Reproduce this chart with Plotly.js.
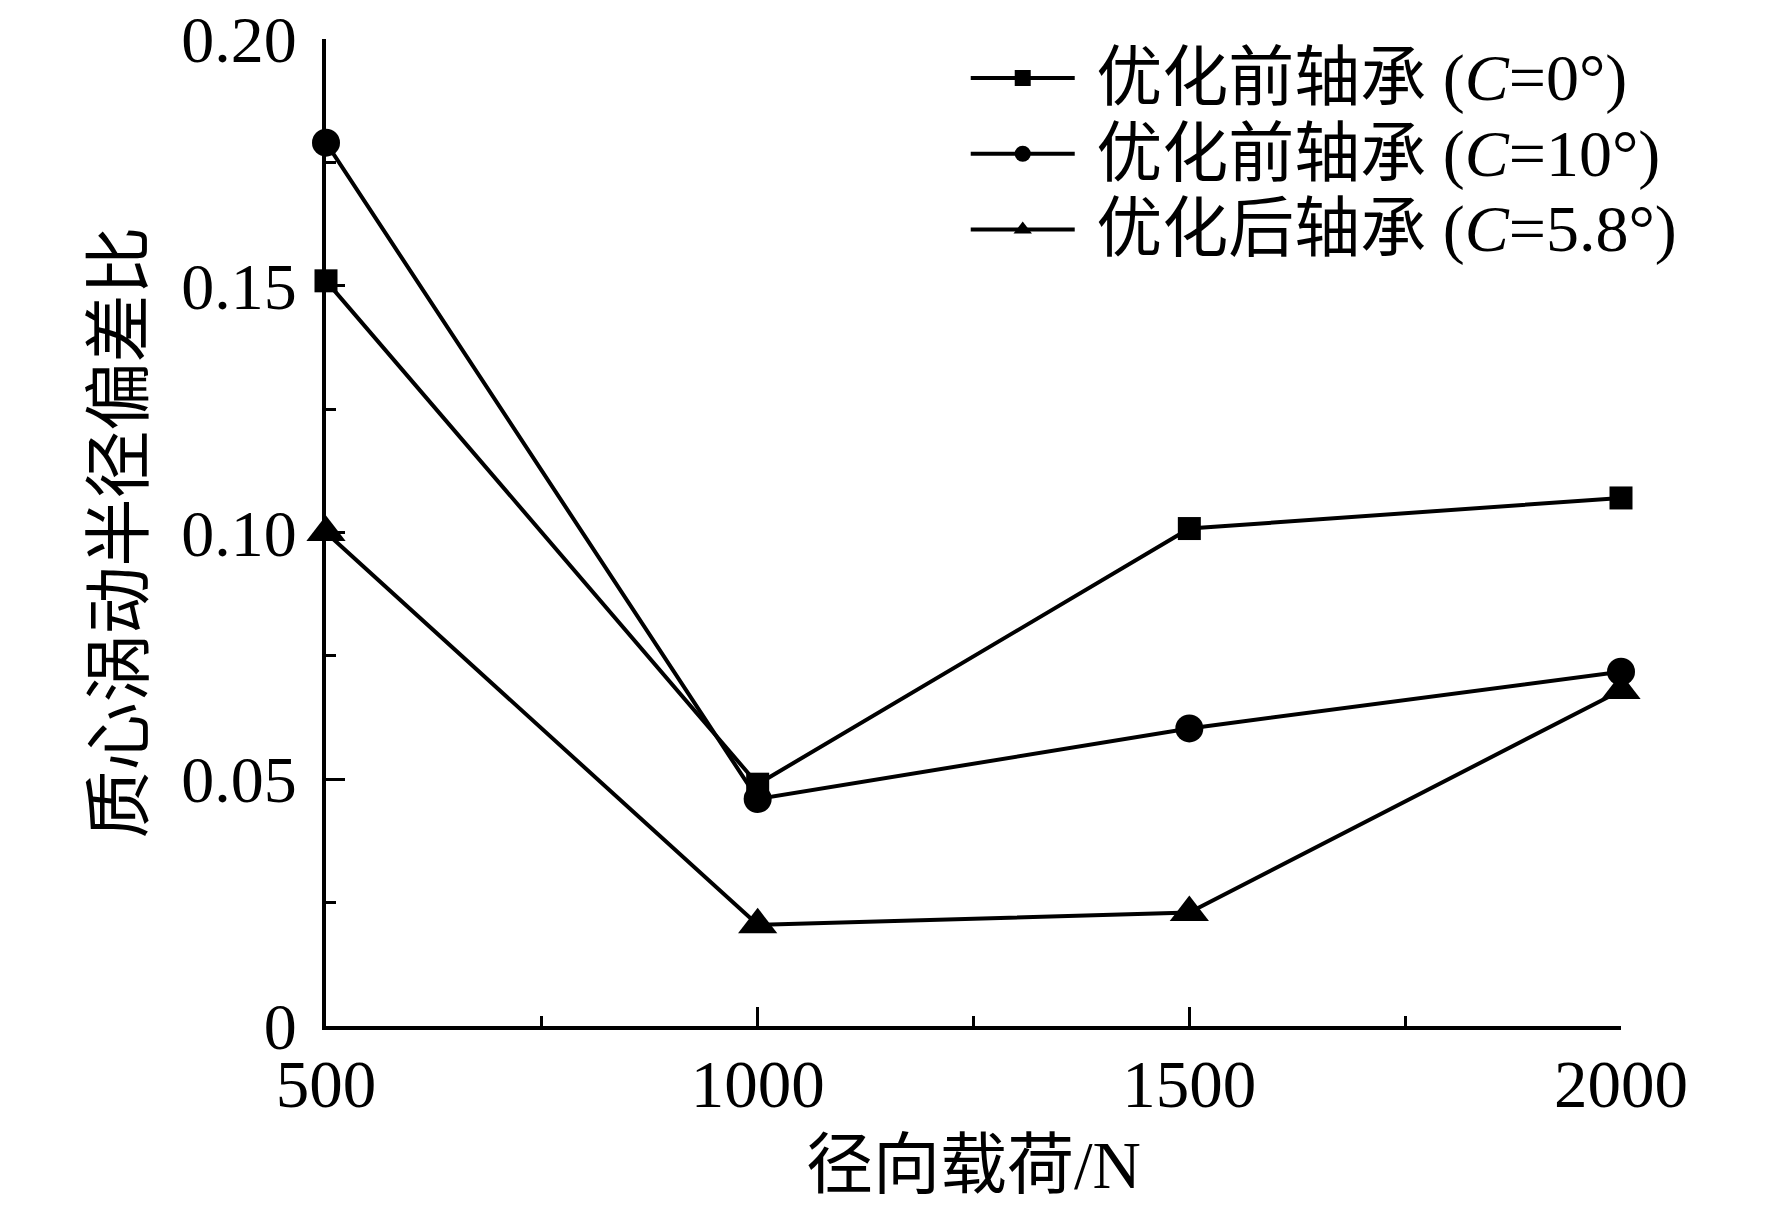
<!DOCTYPE html>
<html>
<head>
<meta charset="utf-8">
<script src="https://cdn.plot.ly/plotly-3.0.1.min.js"></script>
<style>
  html, body { margin: 0; padding: 0; background: #fff; }
  #chart { width: 1772px; height: 1206px; }
</style>
</head>
<body>
<div id="chart"></div>
<script>
// radial load (N)
var loads = [500, 1000, 1500, 2000];
// whirl radius deviation ratio
var before0 = [0.151, 0.049, 0.1008, 0.107];
var before10 = [0.179, 0.046, 0.0603, 0.0718];
var after58 = [0.100, 0.0205, 0.023, 0.068];

var seriesNames = ['优化前轴承 (<i>C</i>=0°)', '优化前轴承 (<i>C</i>=10°)', '优化后轴承 (<i>C</i>=5.8°)'];
var xTickVals = [500, 1000, 1500, 2000];
var yTickVals = [0, 0.05, 0.10, 0.15, 0.20];
var yTickText = ['0', '0.05', '0.10', '0.15', '0.20'];

var font = 'Times New Roman, Liberation Serif, Noto Sans CJK SC, serif';

function series(y, name, symbol, size){
    return {
	x: loads,
	y: y,
	// bigger text than the legend font so rows stay tight
	name: '<span style="font-size:66px">\u00a0' + name + '</span>',
	type: 'scatter',
	mode: 'lines+markers',
	cliponaxis: false,
	line: {color: '#000', width: 4},
	marker: {symbol: symbol, size: size, color: '#000'}
    };
}

var data = [
    series(before0, seriesNames[0], 'square', 23),
    series(before10, seriesNames[1], 'circle', 28),
    series(after58, seriesNames[2], 'triangle-up', 34)
];

var layout = {
    width: 1772, height: 1206,
    margin: {l: 326, r: 151, t: 39, b: 180},
    paper_bgcolor: '#fff', plot_bgcolor: '#fff',
    font: {family: font, size: 67, color: '#000'},
    showlegend: true,
    legend: {
	x: 0.494, y: 1.004, xanchor: 'left', yanchor: 'top',
	bgcolor: 'rgba(0,0,0,0)', itemwidth: 104,
	font: {family: font, size: 56, color: '#000'},
	tracegroupgap: 0
    },
    xaxis: {
	range: [500, 2000],
	tickvals: xTickVals,
	ticks: 'inside', ticklen: 19, tickwidth: 3, tickcolor: '#000',
	minor: {dtick: 250, ticks: 'inside', ticklen: 10, tickwidth: 3, tickcolor: '#000'},
	showline: true, linecolor: '#000', linewidth: 4,
	showgrid: false, zeroline: false, layer: 'below traces',
	ticklabelstandoff: -3, ticklabeloverflow: 'allow',
	tickfont: {family: font, size: 67},
	title: {text: '径向载荷/N', font: {family: font, size: 67}, standoff: 22}
    },
    yaxis: {
	range: [0, 0.2],
	tickvals: yTickVals, ticktext: yTickText,
	ticks: 'inside', ticklen: 19, tickwidth: 3, tickcolor: '#000',
	minor: {dtick: 0.025, ticks: 'inside', ticklen: 10, tickwidth: 3, tickcolor: '#000'},
	showline: true, linecolor: '#000', linewidth: 4,
	showgrid: false, zeroline: false, layer: 'below traces',
	ticklabelstandoff: 12, ticklabeloverflow: 'allow',
	tickfont: {family: font, size: 66},
	title: {text: '质心涡动半径偏差比', font: {family: font, size: 68}, standoff: 16}
    }
};

var config = {displayModeBar: false, staticPlot: true};
Plotly.newPlot('chart', data, layout, config);
</script>
</body>
</html>
